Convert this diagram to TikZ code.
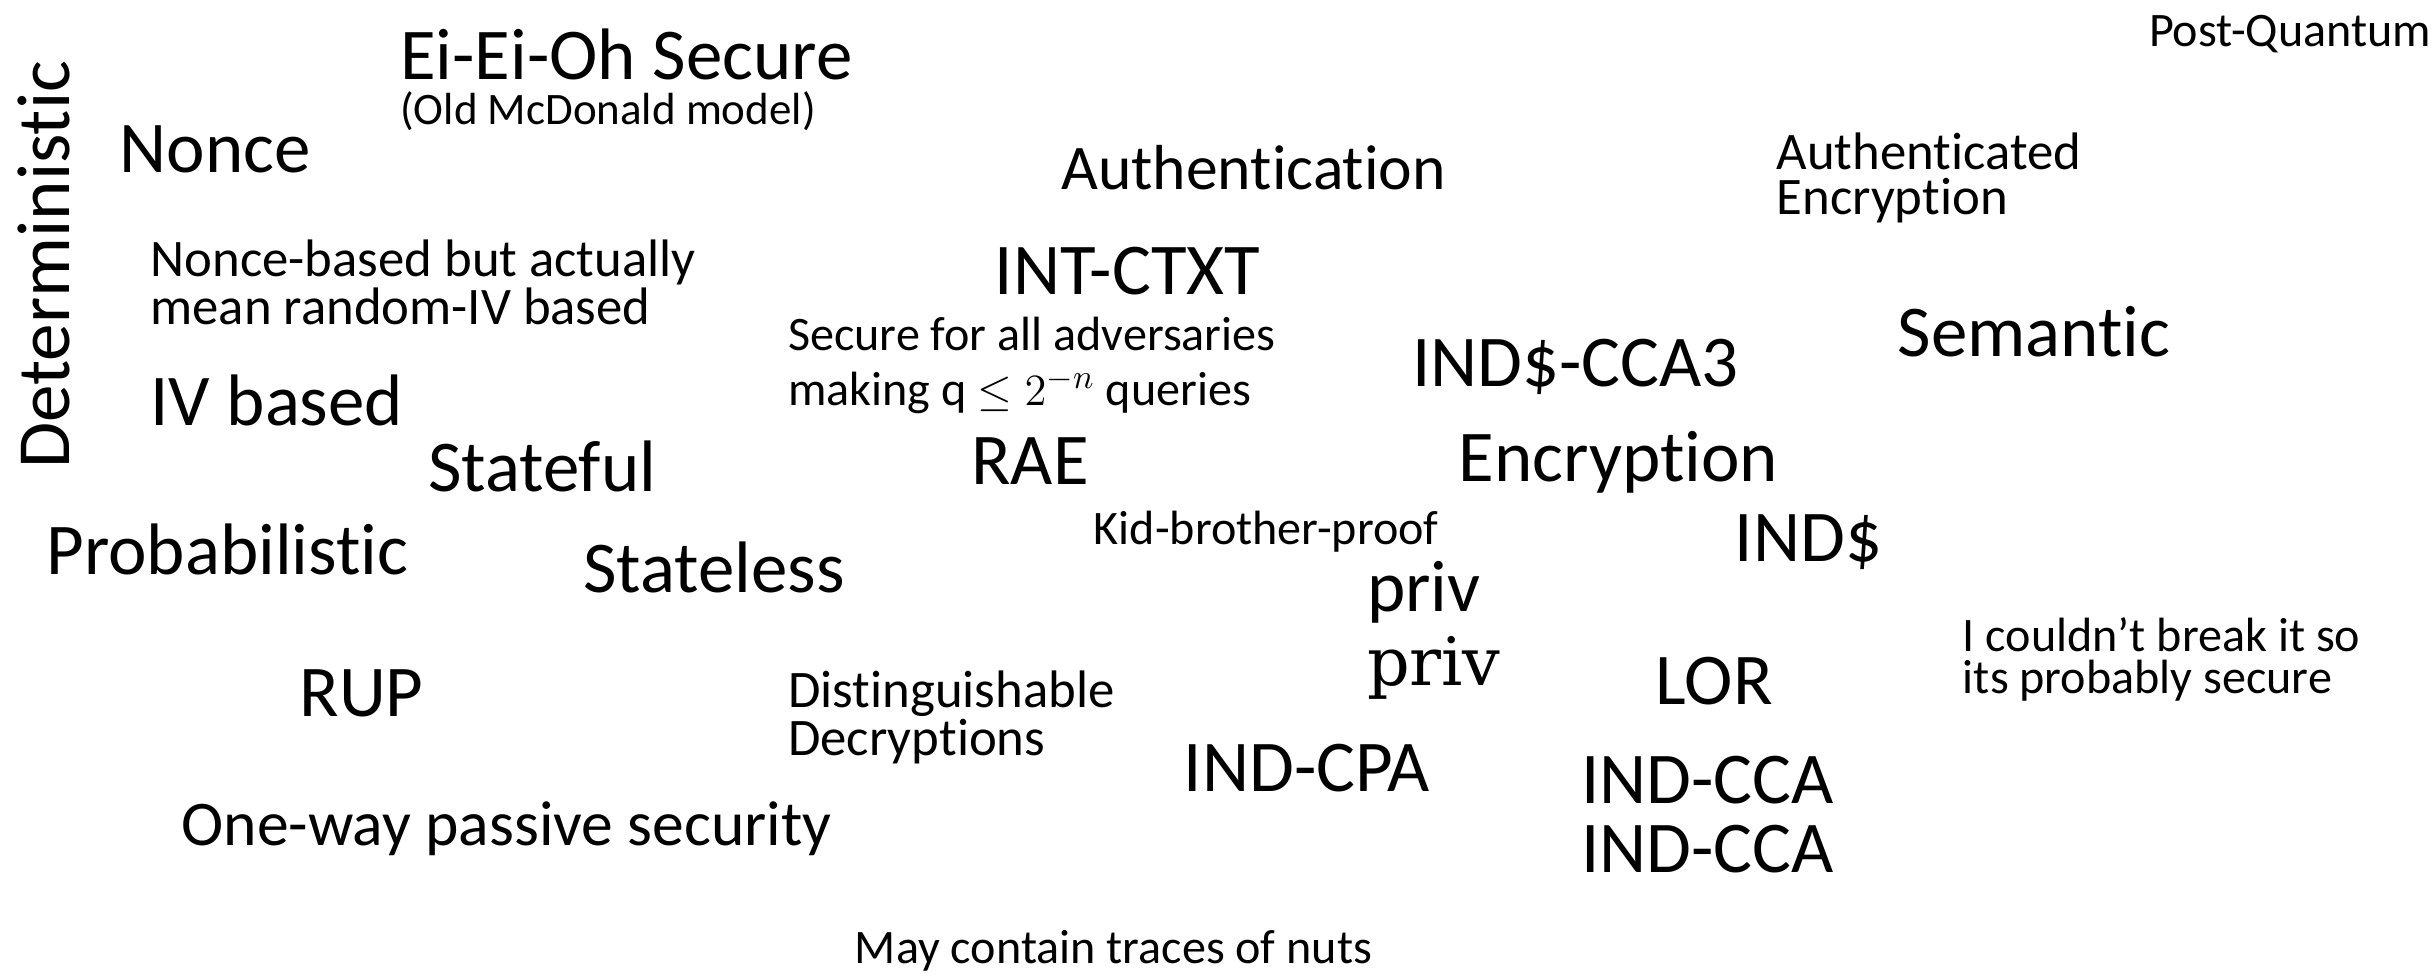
\documentclass[tikz,border=0pt]{standalone}
\usepackage{fontspec}
\setmainfont{Carlito}[Ligatures=NoCommon]
\newfontfamily\serifpriv{DejaVu Serif}
\begin{document}
\begin{tikzpicture}[x=0.5pt,y=-0.5pt,
  every node/.style={inner sep=0pt, outer sep=0pt, anchor=base west},
  big/.style={font=\fontsize{23.5}{28}\selectfont},
  mid/.style={font=\fontsize{20.5}{24}\selectfont},
  sml/.style={font=\fontsize{17}{14.5}\selectfont, align=left},
  tiny/.style={font=\fontsize{15.5}{13.5}\selectfont, align=left}]
\useasboundingbox (0,0) rectangle (1568,629);
\node[font=\fontsize{24.2}{28}\selectfont, rotate=90] (det) at (45,302) {Deterministic};
\node[big] (eio) at (258,51) {Ei-Ei-Oh Secure};
\node[font=\fontsize{14.5}{17}\selectfont] (omd) at (258,80) {(Old McDonald model)};
\node[tiny] (pq) at (1385,30) {Post-Quantum};
\node[big] (nonce) at (77,111) {Nonce};
\node[mid] (auth) at (684,122) {Authentication};
\node[sml] (ae) at (1145,138) {Authenticated\\Encryption};
\node[sml] (nbb) at (97,209) {Nonce-based but actually\\mean random-IV based};
\node[big] (intc) at (641,190) {INT-CTXT};
\node[tiny, font=\fontsize{15.5}{17.5}\selectfont] (sec) at (508,261) {Secure for all adversaries\\making q $\leq 2^{-n}$ queries};
\node[big] (cca3) at (910,249) {IND\$-CCA3};
\node[big] (sem) at (1223,230) {Semantic};
\node[big] (ivb) at (97,274) {IV based};
\node[big] (stf) at (276,317) {Stateful};
\node[big] (rae) at (626,312) {RAE};
\node[big] (enc) at (940,310) {Encryption};
\node[tiny] (kid) at (705,351) {Kid-brother-proof};
\node[big] (inds) at (1118,362) {IND\$};
\node[big] (prob) at (30,370) {Probabilistic};
\node[big] (stl) at (376,382) {Stateless};
\node[big] (priv1) at (881,394) {priv};
\node[font=\fontsize{21.5}{25}\serifpriv\selectfont] (priv2) at (881,442) {priv};
\node[tiny] (brk) at (1265,447) {I couldn’t break it so\\its probably secure};
\node[big] (rup) at (193,462) {RUP};
\node[sml] (dist) at (508,487) {Distinguishable\\Decryptions};
\node[big] (lor) at (1067,454) {LOR};
\node[big] (cpa) at (763,510) {IND-CPA};
\node[big] (cca) at (1019,518) {IND-CCA};
\node[big] (ccal) at (1019,562) {IND-CCA};
\node[mid] (ow) at (117,545) {One-way passive security};
\node[tiny] (nuts) at (551,621) {May contain traces of nuts};
\end{tikzpicture}
\end{document}
